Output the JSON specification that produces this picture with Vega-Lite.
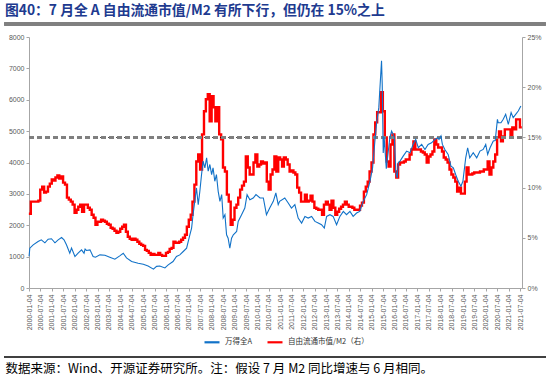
{
  "$schema": "https://vega.github.io/schema/vega-lite/v6.json",
  "autosize": {"type": "none"},
  "width": 493,
  "height": 251,
  "padding": {"left": 29, "top": 37, "right": 28, "bottom": 94},
  "background": "white",
  "title": {
    "text": "图40：7 月全 A 自由流通市值/M2 有所下行，但仍在 15%之上",
    "anchor": "start",
    "frame": "group",
    "dx": -24,
    "offset": 5,
    "fontSize": 13.8,
    "font": "Noto Sans CJK SC",
    "fontWeight": "bold",
    "color": "#203A8F"
  },
  "config": {
    "view": {"stroke": null},
    "axis": {
      "grid": false,
      "domainColor": "#A6A6A6",
      "tickColor": "#A6A6A6",
      "tickSize": 3,
      "labelColor": "#595959",
      "labelFont": "Liberation Sans",
      "labelFontSize": 7,
      "labelOverlap": false
    }
  },
  "datasets": {
    "a": [
      {"d": "2000-01-04", "v": 1010},
      {"d": "2000-01-16", "v": 1270},
      {"d": "2000-03-10", "v": 1376},
      {"d": "2000-05-27", "v": 1483},
      {"d": "2000-07-18", "v": 1536},
      {"d": "2000-09-13", "v": 1440},
      {"d": "2000-11-04", "v": 1557},
      {"d": "2000-12-27", "v": 1570},
      {"d": "2001-02-21", "v": 1440},
      {"d": "2001-04-13", "v": 1536},
      {"d": "2001-06-07", "v": 1610},
      {"d": "2001-07-16", "v": 1536},
      {"d": "2001-08-24", "v": 1376},
      {"d": "2001-10-16", "v": 1109},
      {"d": "2001-11-13", "v": 1270},
      {"d": "2002-01-07", "v": 1003},
      {"d": "2002-02-26", "v": 1109},
      {"d": "2002-04-22", "v": 1216},
      {"d": "2002-05-16", "v": 1150},
      {"d": "2002-06-01", "v": 1110},
      {"d": "2002-06-18", "v": 1240},
      {"d": "2002-07-10", "v": 1195},
      {"d": "2002-09-04", "v": 1216},
      {"d": "2002-10-24", "v": 1003},
      {"d": "2002-12-01", "v": 981},
      {"d": "2003-02-10", "v": 1056},
      {"d": "2003-05-01", "v": 1045},
      {"d": "2003-07-18", "v": 981},
      {"d": "2003-10-07", "v": 917},
      {"d": "2003-12-24", "v": 1024},
      {"d": "2004-02-18", "v": 1109},
      {"d": "2004-04-10", "v": 960},
      {"d": "2004-07-01", "v": 843},
      {"d": "2004-10-13", "v": 789},
      {"d": "2005-01-04", "v": 757},
      {"d": "2005-03-21", "v": 704},
      {"d": "2005-06-15", "v": 600},
      {"d": "2005-08-04", "v": 690},
      {"d": "2005-09-24", "v": 700},
      {"d": "2005-12-15", "v": 640},
      {"d": "2006-02-06", "v": 736},
      {"d": "2006-04-24", "v": 843},
      {"d": "2006-06-18", "v": 1003},
      {"d": "2006-08-10", "v": 1056},
      {"d": "2006-10-04", "v": 1163},
      {"d": "2006-11-27", "v": 1270},
      {"d": "2007-01-18", "v": 1696},
      {"d": "2007-02-15", "v": 1909},
      {"d": "2007-03-10", "v": 2336},
      {"d": "2007-05-04", "v": 3189},
      {"d": "2007-06-01", "v": 2656},
      {"d": "2007-06-27", "v": 3082},
      {"d": "2007-07-24", "v": 3616},
      {"d": "2007-08-18", "v": 4043},
      {"d": "2007-09-15", "v": 3829},
      {"d": "2007-10-13", "v": 4149},
      {"d": "2007-11-07", "v": 3722},
      {"d": "2007-12-04", "v": 3936},
      {"d": "2008-01-01", "v": 3616},
      {"d": "2008-01-24", "v": 3829},
      {"d": "2008-02-21", "v": 3402},
      {"d": "2008-03-18", "v": 3616},
      {"d": "2008-04-15", "v": 3082},
      {"d": "2008-05-13", "v": 2762},
      {"d": "2008-06-10", "v": 2976},
      {"d": "2008-07-04", "v": 2229},
      {"d": "2008-08-01", "v": 2336},
      {"d": "2008-08-27", "v": 1696},
      {"d": "2008-09-21", "v": 1589},
      {"d": "2008-10-18", "v": 1270},
      {"d": "2008-11-15", "v": 1589},
      {"d": "2008-12-13", "v": 1696},
      {"d": "2009-02-04", "v": 1802},
      {"d": "2009-03-01", "v": 2122},
      {"d": "2009-04-24", "v": 2336},
      {"d": "2009-06-15", "v": 2549},
      {"d": "2009-07-21", "v": 2976},
      {"d": "2009-09-04", "v": 2816},
      {"d": "2009-10-27", "v": 2869},
      {"d": "2009-12-10", "v": 2976},
      {"d": "2010-02-13", "v": 2869},
      {"d": "2010-04-07", "v": 2869},
      {"d": "2010-05-27", "v": 2336},
      {"d": "2010-07-18", "v": 2549},
      {"d": "2010-09-13", "v": 2762},
      {"d": "2010-10-24", "v": 3029},
      {"d": "2010-12-01", "v": 2656},
      {"d": "2010-12-24", "v": 2762},
      {"d": "2011-03-16", "v": 2869},
      {"d": "2011-05-10", "v": 2709},
      {"d": "2011-07-01", "v": 2549},
      {"d": "2011-08-24", "v": 2656},
      {"d": "2011-10-16", "v": 2229},
      {"d": "2011-12-10", "v": 2069},
      {"d": "2012-02-01", "v": 2282},
      {"d": "2012-03-24", "v": 2229},
      {"d": "2012-05-18", "v": 2282},
      {"d": "2012-07-10", "v": 2122},
      {"d": "2012-09-01", "v": 2069},
      {"d": "2012-10-24", "v": 2016},
      {"d": "2012-12-07", "v": 1909},
      {"d": "2013-01-13", "v": 2282},
      {"d": "2013-03-07", "v": 2336},
      {"d": "2013-04-27", "v": 2282},
      {"d": "2013-06-21", "v": 2016},
      {"d": "2013-08-13", "v": 2282},
      {"d": "2013-10-07", "v": 2442},
      {"d": "2013-11-27", "v": 2336},
      {"d": "2014-01-21", "v": 2442},
      {"d": "2014-03-13", "v": 2282},
      {"d": "2014-05-07", "v": 2389},
      {"d": "2014-06-27", "v": 2442},
      {"d": "2014-08-21", "v": 2762},
      {"d": "2014-10-15", "v": 2976},
      {"d": "2014-12-07", "v": 3402},
      {"d": "2015-01-18", "v": 3829},
      {"d": "2015-02-24", "v": 4683},
      {"d": "2015-03-21", "v": 5216},
      {"d": "2015-04-27", "v": 5749},
      {"d": "2015-06-10", "v": 7243},
      {"d": "2015-06-21", "v": 6496},
      {"d": "2015-07-07", "v": 4300},
      {"d": "2015-07-22", "v": 4800},
      {"d": "2015-08-25", "v": 3800},
      {"d": "2015-10-21", "v": 4790},
      {"d": "2015-11-18", "v": 5003},
      {"d": "2015-12-13", "v": 4896},
      {"d": "2016-01-01", "v": 4800},
      {"d": "2016-01-24", "v": 3700},
      {"d": "2016-02-15", "v": 3509},
      {"d": "2016-03-04", "v": 4000},
      {"d": "2016-04-01", "v": 4043},
      {"d": "2016-05-21", "v": 4203},
      {"d": "2016-07-15", "v": 4363},
      {"d": "2016-09-07", "v": 4310},
      {"d": "2016-10-27", "v": 4576},
      {"d": "2016-12-07", "v": 4736},
      {"d": "2017-01-18", "v": 4470},
      {"d": "2017-03-13", "v": 4576},
      {"d": "2017-05-04", "v": 4416},
      {"d": "2017-06-24", "v": 4576},
      {"d": "2017-08-18", "v": 4629},
      {"d": "2017-10-10", "v": 4736},
      {"d": "2017-11-24", "v": 4790},
      {"d": "2017-12-15", "v": 4736},
      {"d": "2018-01-15", "v": 4850},
      {"d": "2018-02-07", "v": 4576},
      {"d": "2018-03-18", "v": 4416},
      {"d": "2018-05-10", "v": 4256},
      {"d": "2018-06-24", "v": 3882},
      {"d": "2018-08-01", "v": 3829},
      {"d": "2018-09-07", "v": 3616},
      {"d": "2018-10-18", "v": 3402},
      {"d": "2018-12-01", "v": 3243},
      {"d": "2019-01-01", "v": 3402},
      {"d": "2019-02-15", "v": 4150},
      {"d": "2019-03-18", "v": 4470},
      {"d": "2019-04-21", "v": 4150},
      {"d": "2019-06-15", "v": 4310},
      {"d": "2019-08-10", "v": 4150},
      {"d": "2019-10-01", "v": 4363},
      {"d": "2019-11-21", "v": 4416},
      {"d": "2020-01-01", "v": 4576},
      {"d": "2020-02-01", "v": 4256},
      {"d": "2020-03-10", "v": 4470},
      {"d": "2020-05-01", "v": 4683},
      {"d": "2020-06-01", "v": 4700},
      {"d": "2020-07-06", "v": 5376},
      {"d": "2020-07-18", "v": 5269},
      {"d": "2020-09-01", "v": 5269},
      {"d": "2020-10-07", "v": 5376},
      {"d": "2020-11-15", "v": 5536},
      {"d": "2020-12-27", "v": 5216},
      {"d": "2021-02-10", "v": 5589},
      {"d": "2021-03-15", "v": 5429},
      {"d": "2021-04-24", "v": 5536},
      {"d": "2021-06-04", "v": 5642},
      {"d": "2021-07-16", "v": 5802}
    ],
    "r": [
      {"d": "2000-01-01", "v": 7.4}, {"d": "2000-02-01", "v": 8.6}, {"d": "2000-03-01", "v": 8.6}, {"d": "2000-04-01", "v": 8.6},
      {"d": "2000-05-01", "v": 8.6}, {"d": "2000-06-01", "v": 8.7}, {"d": "2000-07-01", "v": 9.8}, {"d": "2000-08-01", "v": 10.1},
      {"d": "2000-09-01", "v": 9.5}, {"d": "2000-10-01", "v": 9.6}, {"d": "2000-11-01", "v": 10.1}, {"d": "2000-12-01", "v": 10.4},
      {"d": "2001-01-01", "v": 10.8}, {"d": "2001-02-01", "v": 10.7}, {"d": "2001-03-01", "v": 11.0}, {"d": "2001-04-01", "v": 11.2},
      {"d": "2001-05-01", "v": 10.9}, {"d": "2001-06-01", "v": 11.1}, {"d": "2001-07-01", "v": 10.5}, {"d": "2001-08-01", "v": 10.3},
      {"d": "2001-09-01", "v": 9.0}, {"d": "2001-10-01", "v": 8.8}, {"d": "2001-11-01", "v": 8.6}, {"d": "2001-12-01", "v": 8.3},
      {"d": "2002-01-01", "v": 7.5}, {"d": "2002-02-01", "v": 7.8}, {"d": "2002-03-01", "v": 8.1}, {"d": "2002-04-01", "v": 8.3},
      {"d": "2002-05-01", "v": 7.6}, {"d": "2002-06-01", "v": 8.3}, {"d": "2002-07-01", "v": 8.3}, {"d": "2002-08-01", "v": 8.0},
      {"d": "2002-09-01", "v": 7.8}, {"d": "2002-10-01", "v": 7.3}, {"d": "2002-11-01", "v": 7.0}, {"d": "2002-12-01", "v": 6.3},
      {"d": "2003-01-01", "v": 6.6}, {"d": "2003-02-01", "v": 6.6}, {"d": "2003-03-01", "v": 6.8}, {"d": "2003-04-01", "v": 6.7},
      {"d": "2003-05-01", "v": 6.6}, {"d": "2003-06-01", "v": 6.4}, {"d": "2003-07-01", "v": 6.3}, {"d": "2003-08-01", "v": 6.0},
      {"d": "2003-09-01", "v": 5.9}, {"d": "2003-10-01", "v": 5.7}, {"d": "2003-11-01", "v": 5.5}, {"d": "2003-12-01", "v": 5.6},
      {"d": "2004-01-01", "v": 5.9}, {"d": "2004-02-01", "v": 6.1}, {"d": "2004-03-01", "v": 6.3}, {"d": "2004-04-01", "v": 5.6},
      {"d": "2004-05-01", "v": 5.1}, {"d": "2004-06-01", "v": 4.9}, {"d": "2004-07-01", "v": 4.8}, {"d": "2004-08-01", "v": 4.9},
      {"d": "2004-09-01", "v": 4.8}, {"d": "2004-10-01", "v": 4.6}, {"d": "2004-11-01", "v": 4.4}, {"d": "2004-12-01", "v": 4.3},
      {"d": "2005-01-01", "v": 4.2}, {"d": "2005-02-01", "v": 3.8}, {"d": "2005-03-01", "v": 3.7}, {"d": "2005-04-01", "v": 3.5},
      {"d": "2005-05-01", "v": 3.3}, {"d": "2005-06-01", "v": 3.4}, {"d": "2005-07-01", "v": 3.3}, {"d": "2005-08-01", "v": 3.3},
      {"d": "2005-09-01", "v": 3.5}, {"d": "2005-10-01", "v": 3.3}, {"d": "2005-11-01", "v": 3.2}, {"d": "2005-12-01", "v": 3.2},
      {"d": "2006-01-01", "v": 3.5}, {"d": "2006-02-01", "v": 3.6}, {"d": "2006-03-01", "v": 3.9}, {"d": "2006-04-01", "v": 4.0},
      {"d": "2006-05-01", "v": 4.6}, {"d": "2006-06-01", "v": 4.5}, {"d": "2006-07-01", "v": 4.5}, {"d": "2006-08-01", "v": 4.6},
      {"d": "2006-09-01", "v": 4.8}, {"d": "2006-10-01", "v": 5.0}, {"d": "2006-11-01", "v": 5.3}, {"d": "2006-12-01", "v": 6.1},
      {"d": "2007-01-01", "v": 6.8}, {"d": "2007-02-01", "v": 7.3}, {"d": "2007-03-01", "v": 8.6}, {"d": "2007-04-01", "v": 10.3},
      {"d": "2007-05-01", "v": 12.6}, {"d": "2007-06-01", "v": 13.3}, {"d": "2007-07-01", "v": 11.8}, {"d": "2007-08-01", "v": 15.3},
      {"d": "2007-09-01", "v": 17.6}, {"d": "2007-10-01", "v": 18.8}, {"d": "2007-11-01", "v": 19.3}, {"d": "2007-12-01", "v": 16.6},
      {"d": "2008-01-01", "v": 19.1}, {"d": "2008-02-01", "v": 18.0}, {"d": "2008-03-01", "v": 16.6}, {"d": "2008-04-01", "v": 18.0},
      {"d": "2008-05-01", "v": 15.3}, {"d": "2008-06-01", "v": 14.8}, {"d": "2008-07-01", "v": 12.0}, {"d": "2008-08-01", "v": 11.6},
      {"d": "2008-09-01", "v": 9.3}, {"d": "2008-10-01", "v": 8.6}, {"d": "2008-11-01", "v": 6.3}, {"d": "2008-12-01", "v": 6.8},
      {"d": "2009-01-01", "v": 8.0}, {"d": "2009-02-01", "v": 8.3}, {"d": "2009-03-01", "v": 9.0}, {"d": "2009-04-01", "v": 9.8},
      {"d": "2009-05-01", "v": 10.2}, {"d": "2009-06-01", "v": 10.6}, {"d": "2009-07-01", "v": 13.1}, {"d": "2009-08-01", "v": 12.0},
      {"d": "2009-09-01", "v": 11.3}, {"d": "2009-10-01", "v": 11.3}, {"d": "2009-11-01", "v": 12.5}, {"d": "2009-12-01", "v": 13.3},
      {"d": "2010-01-01", "v": 12.1}, {"d": "2010-02-01", "v": 12.3}, {"d": "2010-03-01", "v": 12.6}, {"d": "2010-04-01", "v": 12.4},
      {"d": "2010-05-01", "v": 12.5}, {"d": "2010-06-01", "v": 10.6}, {"d": "2010-07-01", "v": 9.8}, {"d": "2010-08-01", "v": 11.3},
      {"d": "2010-09-01", "v": 11.8}, {"d": "2010-10-01", "v": 13.1}, {"d": "2010-11-01", "v": 11.6}, {"d": "2010-12-01", "v": 13.0},
      {"d": "2011-01-01", "v": 12.8}, {"d": "2011-02-01", "v": 12.1}, {"d": "2011-03-01", "v": 13.0}, {"d": "2011-04-01", "v": 12.8},
      {"d": "2011-05-01", "v": 12.3}, {"d": "2011-06-01", "v": 11.6}, {"d": "2011-07-01", "v": 11.7}, {"d": "2011-08-01", "v": 11.5},
      {"d": "2011-09-01", "v": 11.3}, {"d": "2011-10-01", "v": 10.0}, {"d": "2011-11-01", "v": 9.5}, {"d": "2011-12-01", "v": 8.6},
      {"d": "2012-01-01", "v": 8.6}, {"d": "2012-02-01", "v": 9.3}, {"d": "2012-03-01", "v": 8.6}, {"d": "2012-04-01", "v": 8.7},
      {"d": "2012-05-01", "v": 9.2}, {"d": "2012-06-01", "v": 8.6}, {"d": "2012-07-01", "v": 8.0}, {"d": "2012-08-01", "v": 7.9},
      {"d": "2012-09-01", "v": 7.8}, {"d": "2012-10-01", "v": 7.8}, {"d": "2012-11-01", "v": 7.3}, {"d": "2012-12-01", "v": 8.3},
      {"d": "2013-01-01", "v": 8.6}, {"d": "2013-02-01", "v": 8.3}, {"d": "2013-03-01", "v": 7.8}, {"d": "2013-04-01", "v": 8.7},
      {"d": "2013-05-01", "v": 8.0}, {"d": "2013-06-01", "v": 7.3}, {"d": "2013-07-01", "v": 7.6}, {"d": "2013-08-01", "v": 7.9},
      {"d": "2013-09-01", "v": 8.1}, {"d": "2013-10-01", "v": 8.3}, {"d": "2013-11-01", "v": 8.6}, {"d": "2013-12-01", "v": 8.3},
      {"d": "2014-01-01", "v": 8.1}, {"d": "2014-02-01", "v": 8.1}, {"d": "2014-03-01", "v": 8.0}, {"d": "2014-04-01", "v": 7.8},
      {"d": "2014-05-01", "v": 7.8}, {"d": "2014-06-01", "v": 7.8}, {"d": "2014-07-01", "v": 8.2}, {"d": "2014-08-01", "v": 8.5},
      {"d": "2014-09-01", "v": 9.6}, {"d": "2014-10-01", "v": 10.1}, {"d": "2014-11-01", "v": 10.6}, {"d": "2014-12-01", "v": 11.6},
      {"d": "2015-01-01", "v": 12.5}, {"d": "2015-02-01", "v": 15.3}, {"d": "2015-03-01", "v": 16.5}, {"d": "2015-04-01", "v": 17.5},
      {"d": "2015-05-01", "v": 17.5}, {"d": "2015-06-01", "v": 19.5}, {"d": "2015-07-01", "v": 17.6}, {"d": "2015-08-01", "v": 15.0},
      {"d": "2015-09-01", "v": 12.6}, {"d": "2015-10-01", "v": 12.1}, {"d": "2015-11-01", "v": 14.3}, {"d": "2015-12-01", "v": 15.3},
      {"d": "2016-01-01", "v": 11.6}, {"d": "2016-02-01", "v": 11.0}, {"d": "2016-03-01", "v": 12.3}, {"d": "2016-04-01", "v": 12.5},
      {"d": "2016-05-01", "v": 12.5}, {"d": "2016-06-01", "v": 12.6}, {"d": "2016-07-01", "v": 12.8}, {"d": "2016-08-01", "v": 12.8},
      {"d": "2016-09-01", "v": 13.3}, {"d": "2016-10-01", "v": 13.8}, {"d": "2016-11-01", "v": 14.6}, {"d": "2016-12-01", "v": 13.8},
      {"d": "2017-01-01", "v": 13.8}, {"d": "2017-02-01", "v": 13.8}, {"d": "2017-03-01", "v": 13.6}, {"d": "2017-04-01", "v": 13.5},
      {"d": "2017-05-01", "v": 13.3}, {"d": "2017-06-01", "v": 12.5}, {"d": "2017-07-01", "v": 13.1}, {"d": "2017-08-01", "v": 13.3},
      {"d": "2017-09-01", "v": 13.6}, {"d": "2017-10-01", "v": 14.8}, {"d": "2017-11-01", "v": 14.3}, {"d": "2017-12-01", "v": 14.0},
      {"d": "2018-01-01", "v": 14.0}, {"d": "2018-02-01", "v": 13.6}, {"d": "2018-03-01", "v": 13.0}, {"d": "2018-04-01", "v": 12.8},
      {"d": "2018-05-01", "v": 12.5}, {"d": "2018-06-01", "v": 11.8}, {"d": "2018-07-01", "v": 11.3}, {"d": "2018-08-01", "v": 11.0},
      {"d": "2018-09-01", "v": 10.6}, {"d": "2018-10-01", "v": 9.6}, {"d": "2018-11-01", "v": 10.0}, {"d": "2018-12-01", "v": 9.4},
      {"d": "2019-01-01", "v": 9.4}, {"d": "2019-02-01", "v": 10.6}, {"d": "2019-03-01", "v": 12.0}, {"d": "2019-04-01", "v": 11.3},
      {"d": "2019-05-01", "v": 11.3}, {"d": "2019-06-01", "v": 11.4}, {"d": "2019-07-01", "v": 11.5}, {"d": "2019-08-01", "v": 11.5},
      {"d": "2019-09-01", "v": 11.5}, {"d": "2019-10-01", "v": 11.6}, {"d": "2019-11-01", "v": 11.6}, {"d": "2019-12-01", "v": 11.8},
      {"d": "2020-01-01", "v": 11.8}, {"d": "2020-02-01", "v": 12.6}, {"d": "2020-03-01", "v": 11.3}, {"d": "2020-04-01", "v": 12.0},
      {"d": "2020-05-01", "v": 12.6}, {"d": "2020-06-01", "v": 13.3}, {"d": "2020-07-01", "v": 15.0}, {"d": "2020-08-01", "v": 15.6},
      {"d": "2020-09-01", "v": 14.6}, {"d": "2020-10-01", "v": 15.1}, {"d": "2020-11-01", "v": 15.8}, {"d": "2020-12-01", "v": 15.8},
      {"d": "2021-01-01", "v": 15.8}, {"d": "2021-02-01", "v": 15.1}, {"d": "2021-03-01", "v": 16.0}, {"d": "2021-04-01", "v": 15.8},
      {"d": "2021-05-01", "v": 16.8}, {"d": "2021-06-01", "v": 16.8}, {"d": "2021-07-01", "v": 16.0}, {"d": "2021-07-31", "v": 16.0}
    ]
  },
  "layer": [
    {
      "data": {"name": "r"},
      "layer": [
        {
          "mark": {"type": "line", "interpolate": "step-after", "strokeWidth": 2.4},
          "encoding": {
            "x": {
              "field": "d",
              "type": "temporal",
              "title": "数据来源：Wind、开源证券研究所。注：假设 7 月 M2 同比增速与 6 月相同。",
              "scale": {"domain": [{"year": 2000, "month": 1, "date": 3}, {"year": 2021, "month": 8, "date": 3}]},
              "axis": {
                "values": [
                  {"year": 2000, "month": 1, "date": 4}, {"year": 2000, "month": 7, "date": 4},
                  {"year": 2001, "month": 1, "date": 4}, {"year": 2001, "month": 7, "date": 4},
                  {"year": 2002, "month": 1, "date": 4}, {"year": 2002, "month": 7, "date": 4},
                  {"year": 2003, "month": 1, "date": 4}, {"year": 2003, "month": 7, "date": 4},
                  {"year": 2004, "month": 1, "date": 4}, {"year": 2004, "month": 7, "date": 4},
                  {"year": 2005, "month": 1, "date": 4}, {"year": 2005, "month": 7, "date": 4},
                  {"year": 2006, "month": 1, "date": 4}, {"year": 2006, "month": 7, "date": 4},
                  {"year": 2007, "month": 1, "date": 4}, {"year": 2007, "month": 7, "date": 4},
                  {"year": 2008, "month": 1, "date": 4}, {"year": 2008, "month": 7, "date": 4},
                  {"year": 2009, "month": 1, "date": 4}, {"year": 2009, "month": 7, "date": 4},
                  {"year": 2010, "month": 1, "date": 4}, {"year": 2010, "month": 7, "date": 4},
                  {"year": 2011, "month": 1, "date": 4}, {"year": 2011, "month": 7, "date": 4},
                  {"year": 2012, "month": 1, "date": 4}, {"year": 2012, "month": 7, "date": 4},
                  {"year": 2013, "month": 1, "date": 4}, {"year": 2013, "month": 7, "date": 4},
                  {"year": 2014, "month": 1, "date": 4}, {"year": 2014, "month": 7, "date": 4},
                  {"year": 2015, "month": 1, "date": 4}, {"year": 2015, "month": 7, "date": 4},
                  {"year": 2016, "month": 1, "date": 4}, {"year": 2016, "month": 7, "date": 4},
                  {"year": 2017, "month": 1, "date": 4}, {"year": 2017, "month": 7, "date": 4},
                  {"year": 2018, "month": 1, "date": 4}, {"year": 2018, "month": 7, "date": 4},
                  {"year": 2019, "month": 1, "date": 4}, {"year": 2019, "month": 7, "date": 4},
                  {"year": 2020, "month": 1, "date": 4}, {"year": 2020, "month": 7, "date": 4},
                  {"year": 2021, "month": 1, "date": 4}, {"year": 2021, "month": 7, "date": 4}
                ],
                "tickCount": 100,
                "format": "%Y-%m-%d",
                "labelAngle": -90,
                "labelPadding": 3,
                "labelOverlap": false,
                "labelFlush": false,
                "titleX": -24,
                "titleY": 84,
                "titleAlign": "left",
                "titleAnchor": "start",
                "titleBaseline": "alphabetic",
                "titleAngle": 0,
                "titleFont": "Noto Sans CJK SC",
                "titleFontSize": 12.5,
                "titleFontWeight": "normal",
                "titleColor": "#000000"
              }
            },
            "y": {
              "field": "v",
              "type": "quantitative",
              "scale": {"domain": [0, 25]},
              "axis": {
                "orient": "right",
                "values": [0, 5, 10, 15, 20, 25],
                "tickCount": 100,
                "labelExpr": "datum.value + '%'",
                "labelOverlap": false,
                "title": null
              }
            },
            "color": {
              "datum": "自由流通市值/M2（右）",
              "type": "nominal",
              "scale": {"domain": ["万得全A", "自由流通市值/M2（右）"], "range": ["#1172C8", "#FF0000"]},
              "legend": {
                "orient": "none",
                "legendX": 174,
                "legendY": 296,
                "direction": "horizontal",
                "title": null,
                "symbolType": "stroke",
                "symbolSize": 225,
                "symbolStrokeWidth": 2.2,
                "columnPadding": 10,
                "labelFont": "Noto Sans CJK SC",
                "labelFontSize": 7.5,
                "labelColor": "#333333"
              }
            }
          }
        },
        {
          "mark": {"type": "rule", "strokeWidth": 2.5, "color": "#808080", "clip": false},
          "encoding": {
            "x": {"datum": {"year": 1998, "month": 12, "date": 10}, "type": "temporal"},
            "x2": {"datum": {"year": 2022, "month": 8, "date": 10}},
            "y": {"datum": 26.3, "type": "quantitative", "scale": {"domain": [0, 25]}}
          }
        }
      ]
    },
    {
      "data": {"name": "a"},
      "layer": [
        {
          "mark": {"type": "rule", "strokeWidth": 1.5, "color": "#404040", "clip": false},
          "encoding": {
            "x": {"datum": {"year": 1998, "month": 12, "date": 10}, "type": "temporal"},
            "x2": {"datum": {"year": 2022, "month": 8, "date": 10}},
            "y": {"datum": -2208, "type": "quantitative", "scale": {"domain": [0, 8000]}}
          }
        },
        {
          "mark": {"type": "rule", "strokeDash": [5, 3], "strokeWidth": 1.5, "color": "#7F7F7F"},
          "encoding": {
            "x": {"datum": {"year": 2000, "month": 1, "date": 3}, "type": "temporal"},
            "x2": {"datum": {"year": 2021, "month": 8, "date": 3}},
            "y": {"datum": 4800, "type": "quantitative", "scale": {"domain": [0, 8000]}}
          }
        },
        {
          "mark": {"type": "line", "strokeWidth": 1.1},
          "encoding": {
            "x": {"field": "d", "type": "temporal"},
            "y": {
              "field": "v",
              "type": "quantitative",
              "scale": {"domain": [0, 8000]},
              "axis": {"orient": "left", "values": [0, 1000, 2000, 3000, 4000, 5000, 6000, 7000, 8000], "tickCount": 100, "format": "d", "labelOverlap": false, "title": null}
            },
            "color": {"datum": "万得全A", "type": "nominal"}
          }
        }
      ]
    }
  ],
  "resolve": {"scale": {"y": "independent"}}
}
